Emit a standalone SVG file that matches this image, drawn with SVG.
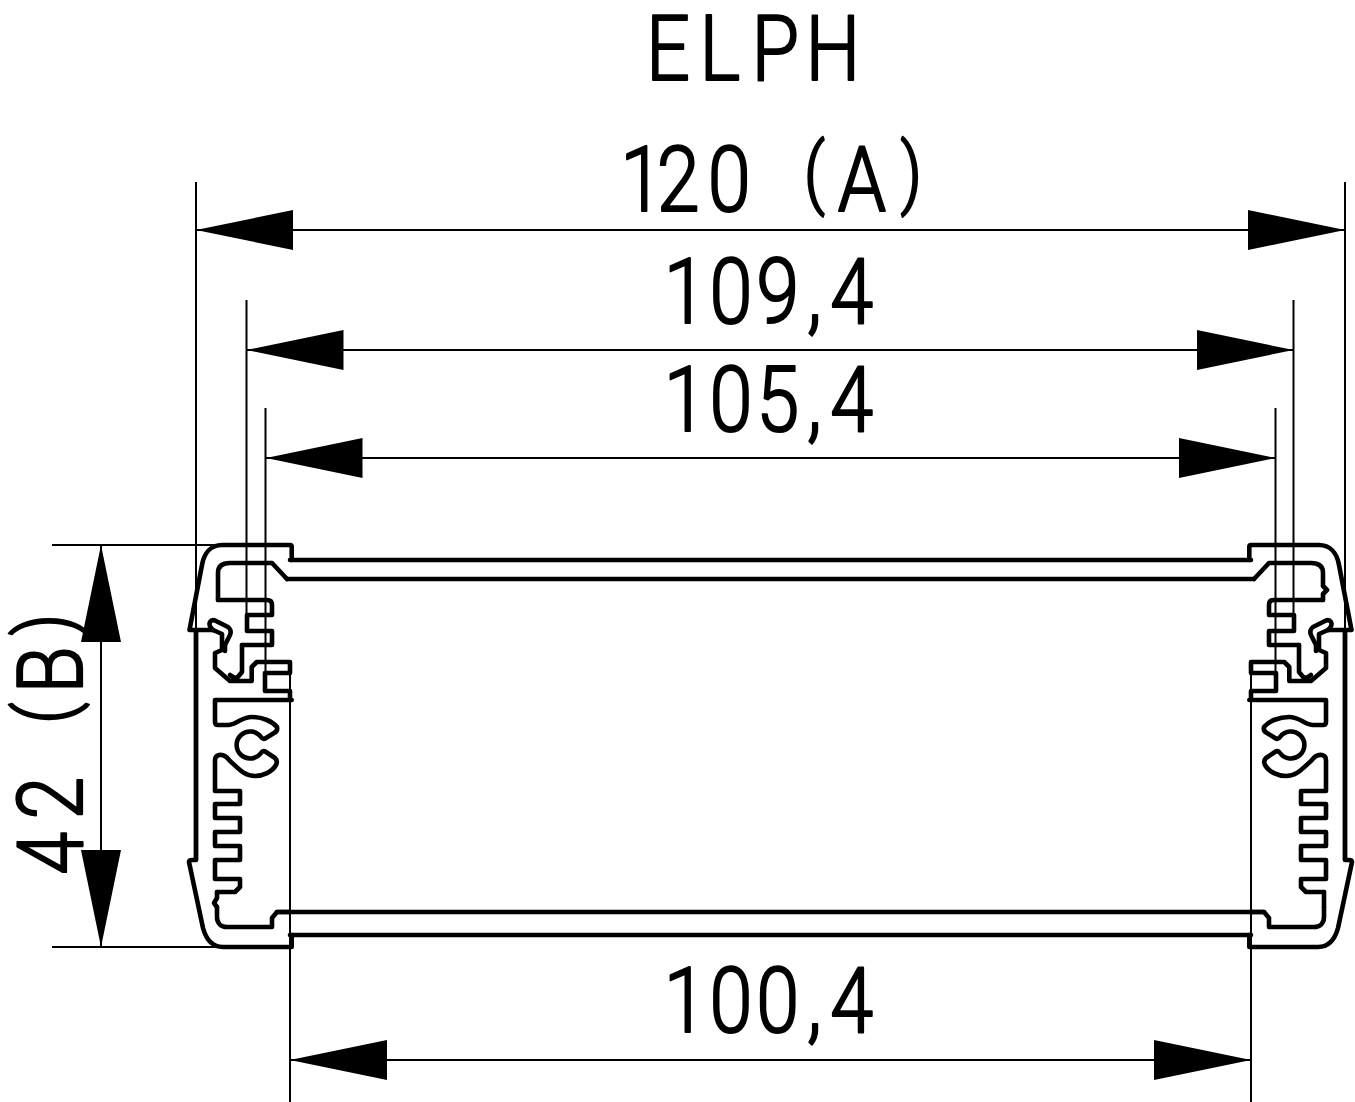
<svg xmlns="http://www.w3.org/2000/svg" width="1355" height="1102" viewBox="0 0 1355 1102">
<style>
.p{fill:none;stroke:#000;stroke-width:4.6;stroke-linejoin:round;stroke-linecap:round}
.w{fill:none;stroke:#000;stroke-width:4.8}
.t{fill:none;stroke:#000;stroke-width:2}
.d{fill:none;stroke:#000;stroke-width:2;marker-start:url(#a);marker-end:url(#a)}
text{font-family:Roboto,"Liberation Sans",Arial,sans-serif;font-weight:300;font-size:91px;fill:#000;stroke:#000;stroke-width:2.2;stroke-linejoin:round;text-anchor:middle;white-space:pre}
.b{font-size:78px}
</style>
<defs>
<marker id="a" markerUnits="userSpaceOnUse" markerWidth="97" markerHeight="40" refX="97" refY="20" orient="auto-start-reverse"><path d="M97 20L0 0V40Z" fill="#000"/></marker>
<path id="top" d="M291.700 560V546.500Q291.700 545 290 545H222C211 545 204 553 202 565L189.500 630H213L222 634V650L215 653V668L230 681H251.700V667L256.700 662H290V673H265V691H290V700"/>
<path id="hook" d="M213 630Q208 625 210 622Q212 619 216 621L228 627Q232 630 230 635L225 645V651"/>
<path id="inner" d="M242 645H272V631H247V615H272V605Q272 600 267 600H218"/>
<path id="hook2" d="M242 645V672L237 678Q233 678 230 675"/>
<path id="low" d="M291.700 700H215V722Q215 725 218 725H228C236 725 241 717 252 717C262 717 272 721 277 727Q278 731 274 733L266 738Q263 740 261 737A13.500 13.500 0 1 0 261 753Q263 750 266 752L275 758Q278 761 276 765C272 772 263 776 255 776C244 776 238 768 230 761Q225 754 219 755Q215 756 215 760V791H240V804H215V818H240V832H215V846H240V860H215V879H240V887L235 892H217"/>
<path id="bot" d="M217 907V917C217 923 221 927 227 927H272V918L277 912H290M291.700 935V947H223C212 947 206 939 203 928L189 862Q189 860 192 860H196"/>
</defs>
<g id="extension-lines">
<path class="t" d="M196 182V630M1345 182V630M246.500 300V631M1293.500 300V631M265.500 408V691M1275.500 408V691M290 662V1102M1251 662V1102M52 545H222M52 947H223"/>
</g>
<g id="connectors">
<path class="d" d="M196 230H1345"/>
<path class="d" d="M246.500 350H1293.500"/>
<path class="d" d="M265.500 458H1275.500"/>
<path class="d" d="M290 1060H1251"/>
<path class="d" d="M101 545V947"/>
</g>
<g id="profile">
<g id="left" class="p">
<use href="#top"/><use href="#hook"/><use href="#inner"/><use href="#hook2"/><use href="#low"/><use href="#bot"/>
<path d="M218 600V573Q218 563 230 563H272L287 579"/>
<path d="M217 892V898L214 903L217 907"/>
</g>
<g id="right" class="p" transform="matrix(-1 0 0 1 1541 0)">
<use href="#top"/><use href="#hook"/><use href="#inner"/><use href="#hook2"/><use href="#low"/><use href="#bot"/>
<path d="M218 600V594L214 590L218 586V573Q218 563 230 563H272L287 579"/>
<path d="M217 892V907"/>
</g>
<path class="p" d="M290 560H1251M287 579H1254M277 912H1264M290 935H1251"/>
<path class="w" d="M196 630V860M1345 630V860"/>
</g>
<g id="labels">
<text transform="translate(0 80) scale(.85 1)" x="786 847 912 980">ELPH</text>
<text transform="translate(0 211) scale(.85 1)"><tspan x="755 798 858 906">120 </tspan><tspan class="b" x="958" dy="-12">(</tspan><tspan x="1014" dy="12">A</tspan><tspan class="b" x="1072" dy="-12">)</tspan></text>
<text transform="translate(0 323) scale(.85 1)" x="806 860 915 958 1002">109,4</text>
<text transform="translate(0 431) scale(.85 1)" x="806 860 915 958 1002">105,4</text>
<text transform="translate(0 1032) scale(.85 1)" x="806 860 915 958 1002">100,4</text>
<text transform="translate(82 0) rotate(-90) scale(.85 1)"><tspan x="-1004 -939 -882">42 </tspan><tspan class="b" x="-839" dy="-11">(</tspan><tspan x="-788" dy="11">B</tspan><tspan class="b" x="-735" dy="-11">)</tspan></text>
</g>
</svg>
